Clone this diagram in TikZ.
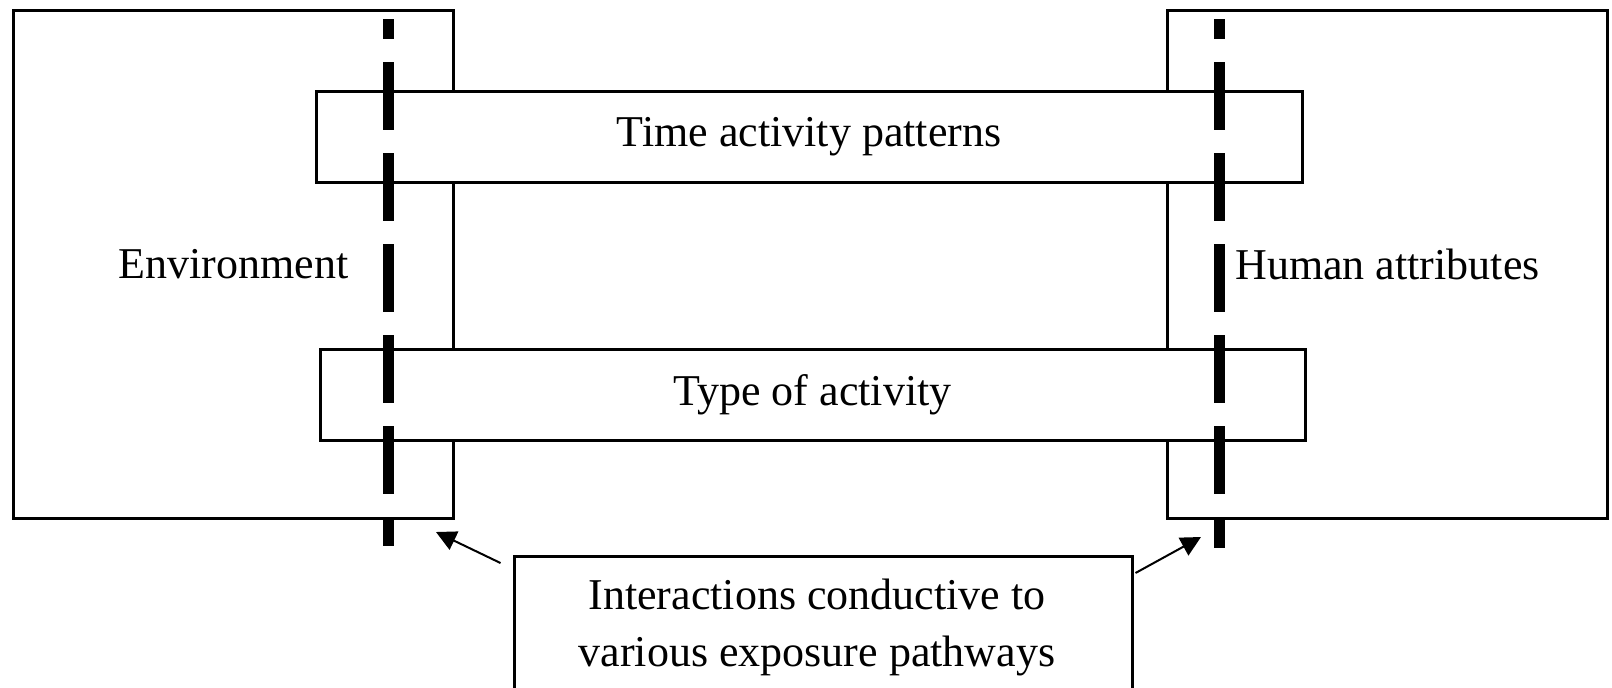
\documentclass[tikz,border=0pt]{standalone}
\usepackage{fontspec}
\setmainfont{Liberation Serif}
\usetikzlibrary{arrows.meta}
\usetikzlibrary{calc}

\tikzset{
  bigbox/.style={draw, line width=1.5pt, inner sep=0pt, minimum width=220pt, minimum height=254pt},
  barbox/.style={draw, fill=white, line width=1.5pt, inner sep=0pt, minimum width=493pt, minimum height=45.5pt},
  divider/.style={line width=5.5pt, dash pattern=on 34pt off 11.5pt, dash phase=24pt},
  pointer/.style={line width=1pt, -{Triangle[width=10pt,length=10pt]}}
}

\begin{document}
\begin{tikzpicture}[x=0.5pt,y=-0.5pt]
\useasboundingbox (0,0) rectangle (1612,687);
\begin{scope}
\clip (0,0) rectangle (1612,687);
\fontsize{22}{28.5}\selectfont
% the two sides
\node[bigbox] (env) at (233.5,264) {Environment};
\node[bigbox] (hum) at (1387.5,264.5) {Human attributes};
% the bars between them
\node[barbox] (time) at (809,136.5) {Time activity patterns};
\node[barbox, minimum width=492.5pt] (type) at (812.5,394.5) {Type of activity};
% dashed borders
\coordinate (lt) at (388,19);
\coordinate (lb) at (388,546);
\coordinate (rt) at (1219,19);
\coordinate (rb) at (1219,548);
\draw[divider] (lt) -- (lb);
\draw[divider] (rt) -- (rb);
% bottom note
\node[draw, line width=1.5pt, inner sep=0pt, minimum width=309pt, minimum height=100pt, anchor=north] (inter) at (823,555) {};
\node[align=center, inner sep=0pt] (intertext) at (817,627) {Interactions conductive to\\various exposure pathways};
\coordinate (la) at (436,532);
\coordinate (ra) at (1201,537);
\draw[pointer] ([xshift=-6pt,yshift=-4pt]inter.north west) -- (la);
\draw[pointer] ([xshift=1pt,yshift=-9pt]inter.north east) -- (ra);
\end{scope}
\end{tikzpicture}
\end{document}
